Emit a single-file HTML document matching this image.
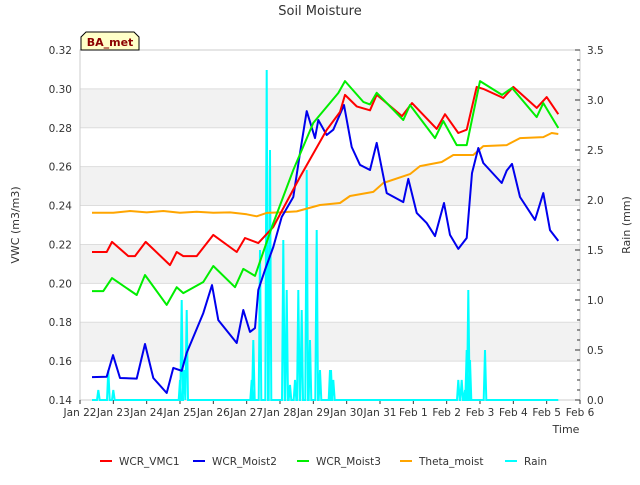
<!DOCTYPE html>
<html><head><meta charset="utf-8"><style>
body{margin:0;background:#fff;}
svg text{font-family:"DejaVu Sans","Liberation Sans",sans-serif;}
</style></head><body>
<svg id="chart" width="640" height="480" xmlns="http://www.w3.org/2000/svg">
<rect width="640" height="480" fill="#fff"/>
<g id="bands"></g><g id="grid"></g>
<rect x="80" y="50" width="500" height="350" fill="none" stroke="#ccc"/>
<g id="axes"></g>
<g id="series"></g>
<text x="320" y="15" text-anchor="middle" font-size="13" fill="#333">Soil Moisture</text>
<text transform="translate(19,225) rotate(-90)" text-anchor="middle" font-size="11" fill="#333">VWC (m3/m3)</text>
<text transform="translate(630,225) rotate(-90)" text-anchor="middle" font-size="11" fill="#333">Rain (mm)</text>
<text x="566" y="433" text-anchor="middle" font-size="11" fill="#333">Time</text>
<g>
<path d="M81,50 L81,37 L86,32 L134,32 L139,37 L139,50 Z" fill="#ffffc8" stroke="#000" stroke-width="1"/>
<text x="110" y="46" text-anchor="middle" font-size="11" font-weight="bold" fill="#8b0000">BA_met</text>
</g>
<g id="legend"></g>
</svg>
<script>
const xTickLabels=["Jan 22","Jan 23","Jan 24","Jan 25","Jan 26","Jan 27","Jan 28","Jan 29","Jan 30","Jan 31","Feb 1","Feb 2","Feb 3","Feb 4","Feb 5","Feb 6"];
const yTicks=[0.14,0.16,0.18,0.20,0.22,0.24,0.26,0.28,0.30,0.32];
const y2Ticks=[0,0.5,1,1.5,2,2.5,3,3.5];
const vmc1Days=[0.36,0.8,0.96,1.45,1.65,1.97,2.7,2.9,3.1,3.5,4.0,4.7,4.95,5.35,5.8,6.6,7.4,7.8,7.95,8.3,8.7,8.9,9.66,9.96,10.7,10.95,11.35,11.6,11.9,12.1,12.7,13.0,13.7,14.0,14.35];
const vmc1Vals=[0.2161,0.2161,0.2213,0.214,0.214,0.2213,0.2094,0.2161,0.214,0.214,0.2249,0.2161,0.2233,0.2207,0.229,0.2547,0.2789,0.2881,0.2969,0.291,0.289,0.297,0.286,0.2927,0.2794,0.287,0.2773,0.279,0.301,0.300,0.2953,0.301,0.2902,0.2958,0.287];
const moist3Days=[0.36,0.7,0.96,1.7,1.95,2.6,2.9,3.1,3.7,4.0,4.65,4.9,5.25,5.8,6.4,7.0,7.75,7.95,8.5,8.7,8.9,9.7,9.9,10.65,10.9,11.3,11.6,12.0,12.66,12.96,13.7,13.9,14.35];
const moist3Vals=[0.196,0.196,0.2027,0.194,0.2043,0.1889,0.198,0.195,0.2007,0.2089,0.198,0.2074,0.2038,0.231,0.2583,0.2825,0.2979,0.304,0.2933,0.292,0.298,0.284,0.2917,0.2747,0.2835,0.2711,0.2711,0.304,0.2969,0.3005,0.2855,0.2927,0.2799];
const moist2Days=[0.36,0.8,0.99,1.2,1.7,1.95,2.2,2.6,2.8,3.05,3.2,3.7,3.96,4.15,4.7,4.9,5.1,5.25,5.35,5.55,5.8,6.05,6.4,6.6,6.8,7.05,7.15,7.4,7.6,7.92,8.15,8.4,8.7,8.9,9.2,9.7,9.85,10.1,10.4,10.65,10.92,11.1,11.35,11.6,11.76,11.95,12.1,12.65,12.8,12.96,13.2,13.65,13.9,14.1,14.35];
const moist2Vals=[0.1518,0.152,0.1631,0.1513,0.151,0.1688,0.1513,0.1436,0.1565,0.155,0.1642,0.1847,0.1991,0.1811,0.1693,0.1863,0.175,0.177,0.1966,0.2069,0.2187,0.2341,0.2444,0.267,0.2886,0.2747,0.284,0.2763,0.279,0.2917,0.2701,0.2609,0.2583,0.2722,0.2464,0.2418,0.2537,0.2362,0.231,0.2243,0.2413,0.2249,0.2177,0.2233,0.2567,0.2696,0.2619,0.2516,0.258,0.2614,0.2444,0.2326,0.2464,0.2274,0.2218];
const thetaDays=[0.36,1.0,1.5,2.0,2.5,3.0,3.5,4.0,4.5,5.0,5.3,5.6,6.0,6.5,7.2,7.8,8.1,8.8,9.1,9.9,10.2,10.85,11.2,11.8,12.1,12.8,13.2,13.9,14.15,14.35];
const thetaVals=[0.2363,0.2363,0.2372,0.2365,0.2372,0.2363,0.2368,0.2363,0.2365,0.2355,0.2345,0.2362,0.2365,0.237,0.2403,0.2413,0.2449,0.247,0.2516,0.2562,0.2603,0.2624,0.266,0.266,0.2706,0.2711,0.2747,0.2752,0.2773,0.2768];
const rainDays=[0.55,0.85,1.0,3.0,3.05,3.12,3.2,5.15,5.2,5.4,5.6,5.7,6.1,6.2,6.3,6.45,6.55,6.65,6.8,6.9,7.1,7.2,7.5,7.53,7.6,11.35,11.45,11.55,11.6,11.65,11.7,12.15];
const rainVals=[0.1,0.3,0.1,0.2,1.0,0.3,0.9,0.2,0.6,1.5,3.3,2.5,1.6,1.1,0.15,0.2,1.1,0.9,2.3,0.6,1.7,0.3,0.3,0.3,0.2,0.2,0.2,0.1,0.5,1.1,0.4,0.5];
const NS="http://www.w3.org/2000/svg";
const X0=80,X1=580,Y0=400,Y1=50;
const xs=d=>X0+d*(X1-X0)/15;
const ys=v=>Y0-(v-0.14)/(0.18)*(Y0-Y1);
const y2s=v=>Y0-v/3.5*(Y0-Y1);
function mk(tag,attrs,parent){const e=document.createElementNS(NS,tag);for(const k in attrs)e.setAttribute(k,attrs[k]);parent.appendChild(e);return e;}
const bands=document.getElementById('bands'),grid=document.getElementById('grid'),axes=document.getElementById('axes'),series=document.getElementById('series'),legend=document.getElementById('legend');
for(let i=0;i<yTicks.length-1;i++){
  if(i%2===1){const r=mk('rect',{x:X0,y:ys(yTicks[i+1]),width:X1-X0,height:ys(yTicks[i])-ys(yTicks[i+1]),fill:'#f2f2f2'},bands);
  
  }
}
yTicks.forEach(v=>{
  const l=mk('line',{x1:X0,x2:X1,y1:ys(v),y2:ys(v),stroke:'#ddd'},grid);
  
  
  const t=mk('text',{x:72,y:ys(v)+4,'text-anchor':'end','font-size':'10.5',fill:'#333'},axes);t.textContent=v.toFixed(2);
  
  
});
for(let k=0;k<=35;k++){const v=k/10;const major=(k%5===0);
  mk('line',{x1:X1,x2:X1-(major?5:3),y1:y2s(v),y2:y2s(v),stroke:'#333'},axes);
  if(major){const t=mk('text',{x:587,y:y2s(v)+4,'font-size':'10.5',fill:'#333'},axes);t.textContent=v.toFixed(1);
  
  }
}
xTickLabels.forEach((s,i)=>{
  mk('line',{x1:xs(i),x2:xs(i),y1:Y0,y2:Y0+4,stroke:'#333'},axes);
  const t=mk('text',{x:xs(i),y:416,'text-anchor':'middle','font-size':'10.5',fill:'#333'},axes);t.textContent=s;
  
  
});
function line(days,vals,color,name,yf){
  const p=mk('polyline',{points:days.map((d,i)=>xs(d).toFixed(1)+','+yf(vals[i]).toFixed(1)).join(' '),fill:'none',stroke:color,'stroke-width':'2','stroke-linejoin':'round'},series);
  
  
}
{const pts=[[0.36,0]];rainDays.forEach((d,i)=>{pts.push([d-0.04,0],[d,rainVals[i]],[d+0.04,0]);});pts.push([14.35,0]);
 const p=mk('polyline',{points:pts.map(q=>xs(q[0]).toFixed(1)+','+y2s(q[1]).toFixed(1)).join(' '),fill:'none',stroke:'#00ffff','stroke-width':'2'},series);
 
 }
line(thetaDays,thetaVals,'#ffa500','theta-moist-line',ys);
line(moist2Days,moist2Vals,'#0000ee','wcr-moist2-line',ys);
line(vmc1Days,vmc1Vals,'#ff0000','wcr-vmc1-line',ys);
line(moist3Days,moist3Vals,'#00ee00','wcr-moist3-line',ys);
const leg=[["WCR_VMC1","#ff0000",100],["WCR_Moist2","#0000ee",193],["WCR_Moist3","#00ee00",297],["Theta_moist","#ffa500",400],["Rain","#00ffff",505]];
leg.forEach(e=>{
  const g=mk('g',{},legend);
  
  
  mk('line',{x1:e[2],x2:e[2]+12,y1:461,y2:461,stroke:e[1],'stroke-width':'2'},g);
  const t=mk('text',{x:e[2]+19,y:465,'font-size':'10.5',fill:'#333'},g);t.textContent=e[0];
});
</script>
</body></html>
